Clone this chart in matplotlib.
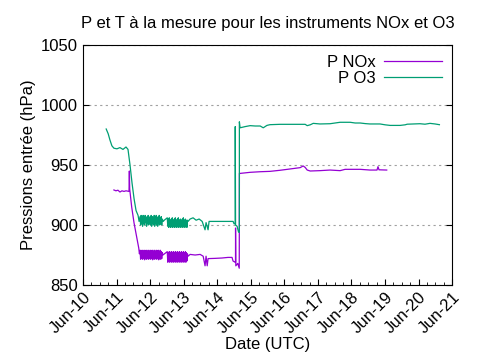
import matplotlib
matplotlib.use("Agg")
import matplotlib.pyplot as plt
import matplotlib.dates as mdates
import pandas as pd

plt.rcParams['font.family'] = ['Liberation Sans', 'DejaVu Sans']

start = pd.Timestamp('2021-06-10')

# O3 : jours depuis le 10 juin, pression (hPa)
o3_day = [0.69, 0.75, 0.80, 0.86, 0.92, 1.01, 1.10, 1.19, 1.28, 1.34, 1.40, 1.46, 1.52, 1.58, 1.64, 1.67,
          1.700, 1.715, 1.730, 1.745, 1.760, 1.775, 1.790, 1.805, 1.820, 1.835, 1.850, 1.865, 1.880, 1.895,
          1.910, 1.925, 1.940, 1.955, 1.970, 1.985, 2.000, 2.015, 2.030, 2.045, 2.060, 2.075, 2.090, 2.105,
          2.120, 2.135, 2.150, 2.165, 2.180, 2.195, 2.210, 2.225, 2.240, 2.255, 2.270, 2.285, 2.300, 2.315,
          2.330, 2.345, 2.360, 2.39, 2.42,
          2.510, 2.525, 2.540, 2.555, 2.570, 2.585, 2.600, 2.615, 2.630, 2.645, 2.660, 2.675, 2.690, 2.705,
          2.720, 2.735, 2.750, 2.765, 2.780, 2.795, 2.810, 2.825, 2.840, 2.855, 2.870, 2.885, 2.900, 2.915,
          2.930, 2.945, 2.960, 2.975, 2.990, 3.005, 3.020, 3.035, 3.050, 3.065, 3.080, 3.095, 3.110, 3.13,
          3.19, 3.28, 3.37, 3.46, 3.55, 3.636, 3.666, 3.726, 3.756, 3.845, 4.084, 4.322, 4.471, 4.501,
          4.535, 4.536, 4.545, 4.590, 4.635, 4.658, 4.659, 4.68,
          4.83, 4.98, 5.13, 5.28, 5.37, 5.48, 5.57, 5.87, 6.17, 6.47, 6.62, 6.68, 6.77, 6.86, 7.06, 7.36,
          7.66, 7.96, 8.11, 8.26, 8.41, 8.55, 8.85, 9.00, 9.15, 9.45, 9.60, 9.66, 9.90, 10.04, 10.19,
          10.34, 10.49, 10.62]
o3_p = [980, 976, 971, 966, 964, 963.5, 964.5, 963, 965, 963, 950, 935, 922, 912, 908, 903,
        907, 900, 908, 901, 906, 899, 908, 901, 907, 900, 908, 902, 906, 899,
        907, 901, 908, 900, 906, 901, 907, 900, 908, 899, 907, 901, 906, 900,
        908, 899, 907, 901, 908, 900, 906, 899, 907, 901, 908, 900, 906, 901,
        907, 900, 905, 903, 904,
        906, 899, 905, 898, 906, 899, 904, 898, 905, 899, 906, 898, 904, 899,
        905, 898, 906, 899, 904, 898, 905, 899, 906, 898, 904, 899, 905, 898,
        904, 899, 905, 898, 906, 899, 904, 898, 905, 899, 904, 898, 904, 903,
        905, 906, 904, 905, 903, 896, 902, 896, 903, 903, 903, 903, 903, 901,
        901, 982, 900, 899, 894, 894, 986, 981,
        982, 982.8, 982.5, 982.5, 981, 983, 983.6, 983.9, 983.9, 983.9, 983.9, 982.8, 983.5, 984.7, 984.2, 984.4,
        985.6, 985.6, 985, 985, 984.5, 984.2, 984.2, 983.5, 983, 983, 983.5, 984, 984.2, 984.4, 984,
        984.7, 984.2, 983.6]

# NOx
nox_day = [0.92, 0.98, 1.04, 1.10, 1.16, 1.22, 1.28, 1.37, 1.38, 1.39, 1.45, 1.52, 1.60, 1.66, 1.68,
           1.700, 1.715, 1.730, 1.745, 1.760, 1.775, 1.790, 1.805, 1.820, 1.835, 1.850, 1.865, 1.880, 1.895,
           1.910, 1.925, 1.940, 1.955, 1.970, 1.985, 2.000, 2.015, 2.030, 2.045, 2.060, 2.075, 2.090, 2.105,
           2.120, 2.135, 2.150, 2.165, 2.180, 2.195, 2.210, 2.225, 2.240, 2.255, 2.270, 2.285, 2.300, 2.315,
           2.330, 2.345, 2.360, 2.38,
           2.510, 2.525, 2.540, 2.555, 2.570, 2.585, 2.600, 2.615, 2.630, 2.645, 2.660, 2.675, 2.690, 2.705,
           2.720, 2.735, 2.750, 2.765, 2.780, 2.795, 2.810, 2.825, 2.840, 2.855, 2.870, 2.885, 2.900, 2.915,
           2.930, 2.945, 2.960, 2.975, 2.990, 3.005, 3.020, 3.035, 3.050, 3.065, 3.080, 3.095, 3.110, 3.13,
           3.19, 3.34, 3.49, 3.58, 3.636, 3.666, 3.70, 3.726, 3.93, 4.14, 4.32, 4.44, 4.47, 4.53,
           4.544, 4.545, 4.553, 4.61, 4.655, 4.66,
           4.68, 4.98, 5.28, 5.57, 5.87, 6.17, 6.47, 6.56, 6.62, 6.68, 6.77, 7.06, 7.36, 7.66, 7.81, 8.26,
           8.55, 8.76, 8.79, 8.82, 9.05]
nox_p = [929.2, 928.5, 929, 927.5, 928.5, 928, 928.5, 928, 945, 930, 915, 901.7, 890, 880.8, 876,
         879, 871.5, 878.5, 872, 879, 871.5, 878, 872, 879, 871, 878.5, 872, 879, 871.5,
         878, 872, 879, 871.5, 878, 872, 879, 871.5, 878.5, 872, 879, 871, 878, 872,
         879, 871.5, 878, 872, 879, 871.5, 878.5, 872, 879, 871, 878, 872, 879, 871.5,
         878, 872, 877, 875,
         877.8, 869, 877, 869.5, 877.8, 869, 877, 870, 877.8, 869, 877, 869.5, 877.8, 869,
         877, 870, 877.8, 869, 877, 869.5, 877.8, 869, 877, 870, 877.8, 869, 877, 869.5,
         877.8, 869, 877, 870, 877.8, 869, 877, 869.5, 877.8, 869, 877, 870, 876, 874,
         875.5, 875, 875.5, 874, 866, 874, 866, 872, 872.2, 872.5, 873, 873, 870, 869,
         869, 897.5, 866, 868, 864, 943,
         943, 943.9, 944.4, 944.7, 945.6, 946.7, 947.8, 949.2, 948, 945.8, 945, 945.3, 945.8, 945.3, 946.4, 946.4,
         945.8, 945.8, 948.6, 946, 945.8]

o3_t = start + pd.to_timedelta(o3_day, unit='D')
nox_t = start + pd.to_timedelta(nox_day, unit='D')

fig = plt.figure(figsize=(4.8, 3.6), dpi=100)
ax = fig.add_axes([0.173, 0.2083, 0.769, 0.6667])

ax.plot(nox_t, nox_p, color='#9400D3', lw=0.9, label='P NOx')
ax.plot(o3_t, o3_p, color='#009E73', lw=0.9, label='P O3')

ax.set_xlim(pd.Timestamp('2021-06-10'), pd.Timestamp('2021-06-21'))
ax.set_ylim(850, 1050)
ax.set_yticks([850, 900, 950, 1000, 1050])
ax.xaxis.set_major_locator(mdates.DayLocator())
ax.xaxis.set_minor_locator(mdates.HourLocator(byhour=[6, 12, 18]))
ax.xaxis.set_major_formatter(mdates.DateFormatter('%b-%d'))
plt.setp(ax.get_xticklabels(), rotation=45, ha='right', rotation_mode='anchor')

ax.tick_params(axis='both', which='major', direction='in', length=4, width=0.8, labelsize=12)
ax.tick_params(axis='x', which='minor', direction='in', length=2, width=0.6)
ax.tick_params(axis='y', right=True)
ax.yaxis.grid(True, color='#a0a0a0', linestyle=(0, (2, 3)), lw=0.8)

ax.set_title('P et T à la mesure pour les instruments NOx et O3', fontsize=12, pad=12)
ax.set_ylabel('Pressions entrée (hPa)', fontsize=12)
ax.set_xlabel('Date (UTC)', fontsize=12, labelpad=0)

ax.legend(loc='upper right', frameon=False, markerfirst=False, fontsize=12,
          handlelength=3.5, labelspacing=0.05, borderaxespad=0.2, handletextpad=0.5)

fig.savefig('out.png', dpi=100)
